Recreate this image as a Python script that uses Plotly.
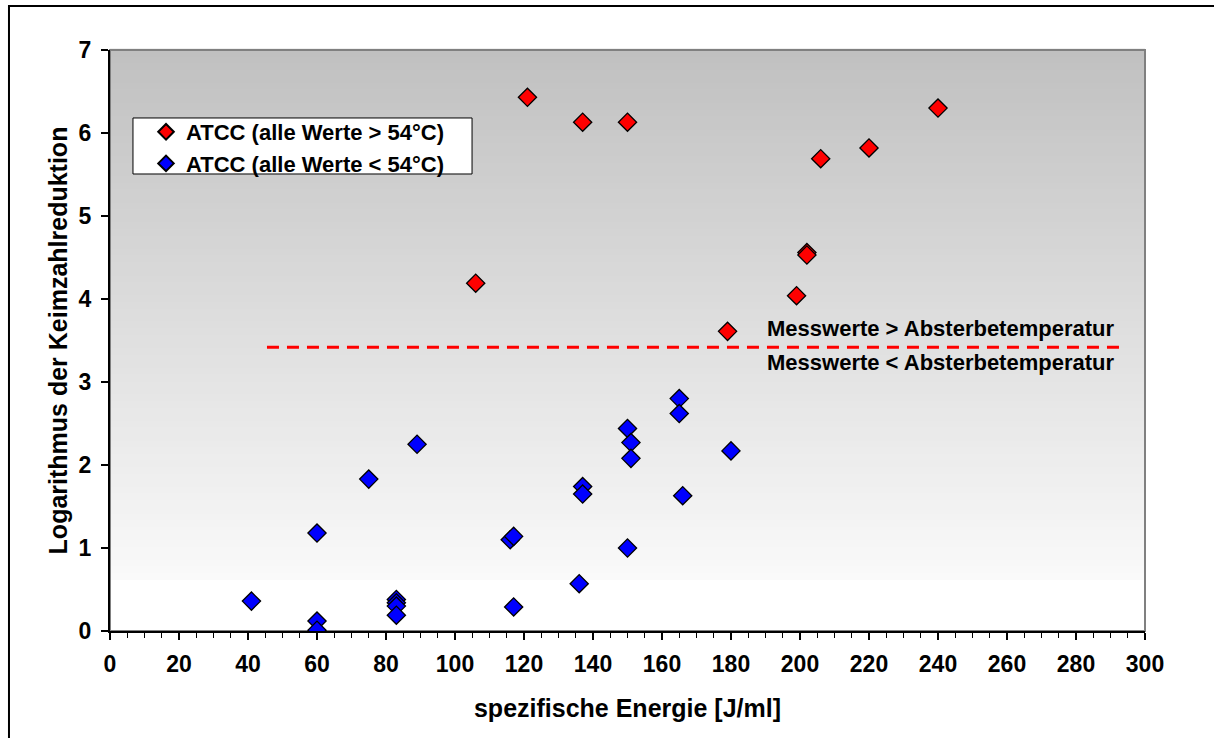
import plotly.graph_objects as go

# ---- data ----
red_name = "ATCC (alle Werte > 54°C)"
red_x = [106, 121, 137, 150, 179, 199, 202, 202, 206, 220, 240]
red_y = [4.19, 6.43, 6.13, 6.13, 3.61, 4.04, 4.56, 4.53, 5.69, 5.82, 6.30]

blue_name = "ATCC (alle Werte < 54°C)"
blue_x = [41, 60, 60, 60, 75, 89, 83, 83, 83, 83, 116, 117, 117, 136, 137, 137,
          150, 150, 151, 151, 165, 165, 166, 180]
blue_y = [0.36, 1.18, 0.12, 0.01, 1.83, 2.25, 0.38, 0.34, 0.30, 0.19, 1.10, 1.14, 0.29,
          0.57, 1.74, 1.65, 1.00, 2.44, 2.27, 2.08, 2.80, 2.62, 1.63, 2.17]

threshold_x = [45.5, 293]
threshold_y = [3.42, 3.42]
label_above = "Messwerte > Absterbetemperatur"
label_below = "Messwerte < Absterbetemperatur"
label_x = 291.6
label_y_above = 3.64
label_y_below = 3.24

x_title = "spezifische Energie [J/ml]"
y_title = "Logarithmus der Keimzahlreduktion"
x_ticks = list(range(0, 301, 20))
y_ticks = list(range(0, 8))

FONT = "Arial, Liberation Sans, sans-serif"

fig = go.Figure()

fig.add_trace(go.Scatter(
    x=red_x, y=red_y, mode="markers", name=red_name,
    marker=dict(symbol="diamond", size=14, color="#ff0000",
                line=dict(color="black", width=1.3)),
))
fig.add_trace(go.Scatter(
    x=blue_x, y=blue_y, mode="markers", name=blue_name,
    marker=dict(symbol="diamond", size=14, color="#0000ff",
                line=dict(color="black", width=1.3)),
))
fig.add_trace(go.Scatter(
    x=threshold_x, y=threshold_y, mode="lines", showlegend=False,
    line=dict(color="#ff0000", width=3, dash="12px,8px"), hoverinfo="skip",
))

shapes = []
# gradient background: grey at top to near white, then white band at bottom
white_start = 0.0878
n = 80
for i in range(n):
    y0 = white_start + (1 - white_start) * i / n
    y1 = white_start + (1 - white_start) * (i + 1) / n
    frac = (i + 0.5) / n  # 0 bottom, 1 top
    c = int(round(250 - frac * (250 - 192)))
    shapes.append(dict(type="rect", xref="paper", yref="paper", x0=0, x1=1,
                       y0=y0, y1=y1 + 0.002, layer="below",
                       fillcolor=f"rgb({c},{c},{c})", line=dict(width=0)))
# plot area frame (grey top/right)
shapes.append(dict(type="rect", xref="paper", yref="paper", x0=0, x1=1, y0=0, y1=1,
                   layer="below", line=dict(color="#808080", width=2)))
# legend box
shapes.append(dict(type="rect", xref="paper", yref="paper",
                   x0=0.0222, x1=0.3498, y0=0.7866, y1=0.883, layer="below",
                   fillcolor="white", line=dict(color="black", width=1)))
# outer chart border
shapes.append(dict(type="rect", xref="paper", yref="paper",
                   x0=-0.0976, x1=1.2, y0=-0.3, y1=1.0757,
                   line=dict(color="black", width=2)))

annotations = [
    dict(x=label_x, y=label_y_above, xref="x", yref="y", text=label_above,
         showarrow=False, xanchor="right", yanchor="middle",
         font=dict(family=FONT, size=22, color="black", weight="bold")),
    dict(x=label_x, y=label_y_below, xref="x", yref="y", text=label_below,
         showarrow=False, xanchor="right", yanchor="middle",
         font=dict(family=FONT, size=22, color="black", weight="bold")),
]

fig.update_layout(
    width=1214, height=738,
    margin=dict(l=110, r=69, t=50, b=107),
    paper_bgcolor="white", plot_bgcolor="white",
    font=dict(family=FONT, color="black"),
    shapes=shapes, annotations=annotations,
    showlegend=True,
    legend=dict(x=0.0348, y=0.895, xanchor="left", yanchor="top",
                bgcolor="rgba(0,0,0,0)", borderwidth=0,
                font=dict(family=FONT, size=22, color="black", weight="bold"),
                itemsizing="constant", tracegroupgap=0),
    xaxis=dict(range=[0, 300], tickvals=x_ticks, showgrid=False, zeroline=False,
               showline=True, linecolor="black", linewidth=2,
               ticks="outside", ticklen=7, tickwidth=1.5, tickcolor="black",
               ticklabelstandoff=4,
               tickfont=dict(family=FONT, size=23, color="black", weight="bold"),
               minor=dict(dtick=5, ticks="outside", ticklen=5, tickcolor="black", tickwidth=1),
               title=dict(text=x_title, standoff=24,
                          font=dict(family=FONT, size=25, color="black", weight="bold"))),
    yaxis=dict(range=[0, 7], tickvals=y_ticks, showgrid=False, zeroline=False,
               showline=True, linecolor="black", linewidth=2,
               ticks="outside", ticklen=7, tickwidth=1.5, tickcolor="black",
               ticklabelstandoff=5,
               tickfont=dict(family=FONT, size=23, color="black", weight="bold"),
               title=dict(text=y_title, standoff=4,
                          font=dict(family=FONT, size=25, color="black", weight="bold"))),
)

fig.write_html("out.html", config={"displayModeBar": False},
               post_script="document.body.style.margin='0';")
